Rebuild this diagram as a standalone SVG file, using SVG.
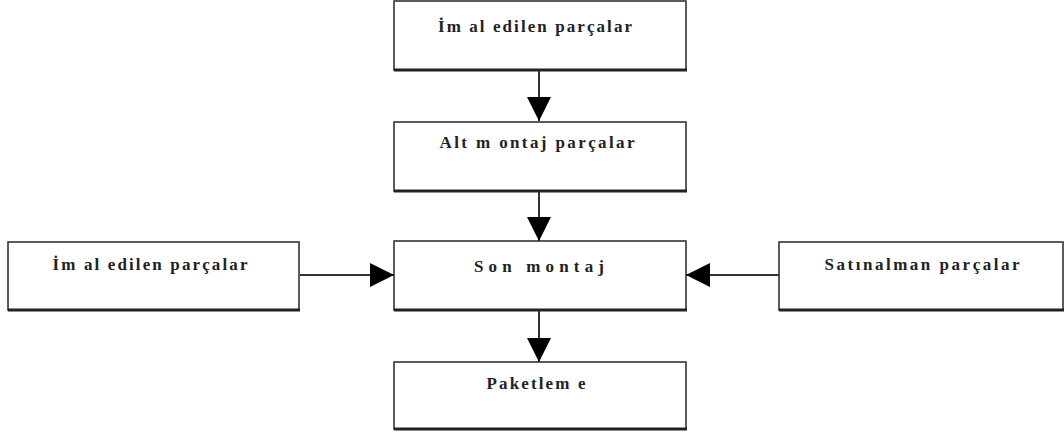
<svg xmlns="http://www.w3.org/2000/svg" width="1064" height="436" viewBox="0 0 1064 436">
<defs>
<style>
.box{fill:#fff;stroke:#333;stroke-width:1.6}
.sh{stroke:#222;stroke-width:3}
.lbl{font-family:"Liberation Serif","Times New Roman",serif;font-size:17px;font-weight:bold;fill:#222;text-anchor:middle}
.con{stroke:#333;stroke-width:2;fill:none}
</style>
<marker id="ah" markerUnits="userSpaceOnUse" markerWidth="24" markerHeight="24" viewBox="0 0 22 22" refX="22" refY="11" orient="auto">
<path d="M0,0 L22,11 L0,22 Z" fill="#000"/>
</marker>
</defs>
<rect width="1064" height="436" fill="#fff"/>
<g id="n1"><rect class="box" x="394" y="1" width="292" height="69"/><line class="sh" x1="394" y1="70" x2="687" y2="70"/><text class="lbl" x="535" y="32" textLength="194" lengthAdjust="spacing">İm al edilen parçalar</text></g>
<g id="n2"><rect class="box" x="394" y="122" width="292" height="69"/><line class="sh" x1="394" y1="191" x2="687" y2="191"/><text class="lbl" x="537" y="148" textLength="195" lengthAdjust="spacing">Alt m ontaj  parçalar</text></g>
<g id="n3"><rect class="box" x="394" y="241" width="292" height="69"/><line class="sh" x1="394" y1="310" x2="687" y2="310"/><text class="lbl" x="539" y="272" textLength="130" lengthAdjust="spacing">Son montaj</text></g>
<g id="n4"><rect class="box" x="8" y="242" width="291" height="68"/><line class="sh" x1="8" y1="310" x2="300" y2="310"/><text class="lbl" x="150" y="270" textLength="195" lengthAdjust="spacing">İm al edilen parçalar</text></g>
<g id="n5"><rect class="box" x="779" y="242" width="284" height="68"/><line class="sh" x1="779" y1="310" x2="1064" y2="310"/><text class="lbl" x="922" y="270" textLength="195" lengthAdjust="spacing">Satınalman parçalar</text></g>
<g id="n6"><rect class="box" x="394" y="362" width="292" height="67"/><line class="sh" x1="394" y1="429" x2="687" y2="429"/><text class="lbl" x="536" y="389" textLength="99" lengthAdjust="spacing">Paketlem e</text></g>
<g id="connectors">
<line class="con" x1="539" y1="71" x2="539" y2="121" marker-end="url(#ah)"/>
<line class="con" x1="539" y1="192" x2="539" y2="241" marker-end="url(#ah)"/>
<line class="con" x1="539" y1="311" x2="539" y2="362" marker-end="url(#ah)"/>
<line class="con" x1="300" y1="275" x2="394" y2="275" marker-end="url(#ah)"/>
<line class="con" x1="779" y1="275" x2="686" y2="275" marker-end="url(#ah)"/>
</g>
</svg>
